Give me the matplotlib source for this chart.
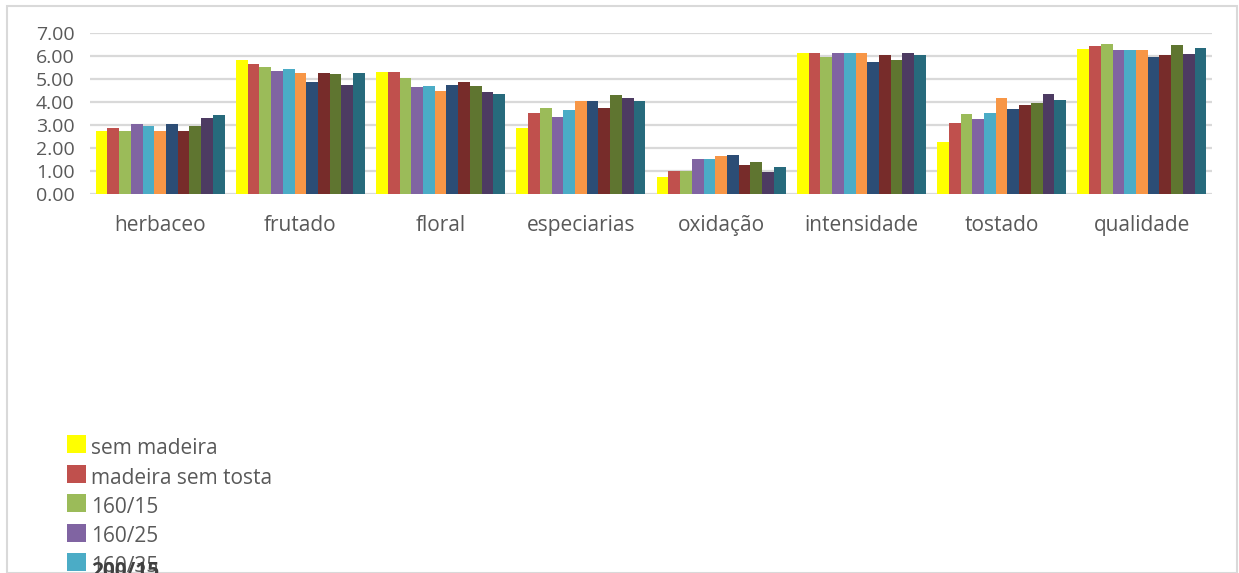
import numpy as np
import matplotlib.pyplot as plt
from matplotlib.patches import Rectangle

# --- Data: mean sensory scores per attribute and treatment ---
categories = ['herbaceo', 'frutado', 'floral', 'especiarias',
              'oxidação', 'intensidade', 'tostado', 'qualidade']

series_names = ['sem madeira', 'madeira sem tosta', '160/15', '160/25', '160/35',
                '200/15', '200/25', '200/35', '240/15', '240/25', '240/35']

sem_madeira = [2.73, 5.81, 5.29, 2.86, 0.73, 6.12, 2.25, 6.29]
madeira_sem_tosta = [2.86, 5.64, 5.29, 3.51, 0.99, 6.12, 3.07, 6.42]
t160_15 = [2.73, 5.51, 5.03, 3.73, 0.99, 5.94, 3.47, 6.51]
t160_25 = [3.03, 5.33, 4.64, 3.33, 1.51, 6.12, 3.25, 6.25]
t160_35 = [2.94, 5.42, 4.68, 3.64, 1.51, 6.12, 3.51, 6.25]
t200_15 = [2.73, 5.25, 4.47, 4.03, 1.64, 6.12, 4.16, 6.25]
t200_25 = [3.03, 4.86, 4.73, 4.03, 1.68, 5.73, 3.68, 5.94]
t200_35 = [2.73, 5.25, 4.86, 3.73, 1.25, 6.03, 3.86, 6.03]
t240_15 = [2.94, 5.20, 4.68, 4.29, 1.38, 5.81, 3.94, 6.47]
t240_25 = [3.29, 4.73, 4.42, 4.16, 0.94, 6.12, 4.33, 6.07]
t240_35 = [3.42, 5.25, 4.33, 4.03, 1.16, 6.03, 4.07, 6.34]

values = [sem_madeira, madeira_sem_tosta, t160_15, t160_25, t160_35,
          t200_15, t200_25, t200_35, t240_15, t240_25, t240_35]

colors = ['#FFFF00', '#C0504D', '#9BBB59', '#8064A2', '#4BACC6', '#F79646',
          '#2C4D75', '#772C2A', '#5F7530', '#4D3B62', '#276A7C']

TEXT = '#595959'
GRID = '#D9D9D9'
plt.rcParams['font.family'] = ['Open Sans', 'DejaVu Sans']
FS = 15
FS_Y = 14

W, H = 1239, 573
fig = plt.figure(figsize=(W / 100, H / 100), dpi=100)

# outer chart border
fig.patches.append(Rectangle((7 / W, 0), 1230 / W, 1 - 6 / H, transform=fig.transFigure,
                             fill=False, edgecolor=GRID, linewidth=1.5))

# plot area in pixel coordinates (left, top, right, bottom)
pl, pt, pr, pb = 90, 32.7, 1212, 193.7
ax = fig.add_axes([pl / W, 1 - pb / H, (pr - pl) / W, (pb - pt) / H])

x = np.arange(len(categories))
n = len(values)
bar_w = 0.92 / n
for i, (vals, col) in enumerate(zip(values, colors)):
    ax.bar(x + (i - (n - 1) / 2) * bar_w, vals, width=bar_w, color=col,
           linewidth=0, zorder=3)

ax.set_xlim(-0.5, len(categories) - 0.5)
ax.set_ylim(0, 7)
ax.set_yticks(np.arange(0, 8, 1))
ax.set_yticklabels([f'{v:.2f}' for v in np.arange(0, 8, 1)])
ax.set_xticks(x)
ax.set_xticklabels(categories)
ax.tick_params(axis='both', length=0, colors=TEXT)
ax.tick_params(axis='y', pad=11, labelsize=FS_Y)
ax.tick_params(axis='x', pad=15, labelsize=FS)
ax.yaxis.grid(True, color=GRID, linewidth=1.6, zorder=0)
for s in ax.spines.values():
    s.set_visible(False)
ax.set_facecolor('none')

# legend drawn as a vertical list running past the bottom edge
for i, (name, col) in enumerate(zip(series_names, colors)):
    top = 435 + 29.5 * i
    fig.patches.append(Rectangle((67 / W, 1 - (top + 18) / H), 19 / W, 18 / H,
                                 transform=fig.transFigure, color=col, linewidth=0))
    fig.text(91 / W, 1 - (top + 13.5) / H, name, fontsize=FS, color=TEXT,
             va='center', ha='left')

# overlapping entry text
fig.text(91 / W, 1 - 561 / H, series_names[5], fontsize=FS, color='#404040',
         fontweight='bold', va='top', ha='left')

fig.savefig('out.png', dpi=100)
